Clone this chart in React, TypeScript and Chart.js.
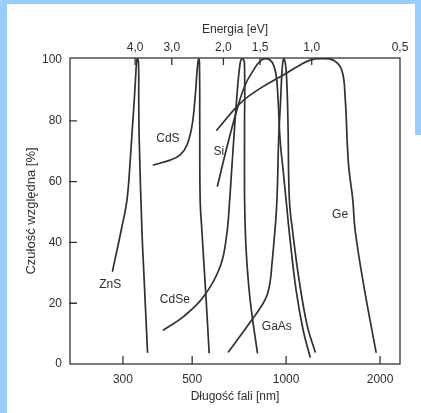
import React, { useEffect, useRef } from 'react';
import { Chart, registerables } from 'chart.js';

Chart.register(...registerables);

// ---- axis ticks ----
const WL_TICKS = [300, 500, 1000, 2000];
const EV_TICKS = [4.0, 3.0, 2.0, 1.5, 1.0, 0.5];
const Y_TICKS = [0, 20, 40, 60, 80, 100];

// ---- series (wavelength nm, relative sensitivity %) ----
const ZNS_WL = [277.8, 296.3, 309.0, 316.6, 321.3, 326.1, 329.7, 331.6, 333.4, 336.5, 337.1, 338.3, 345.1, 349.7, 359.7];
const ZNS_VAL = [30.6, 44.1, 53.9, 67.1, 77.0, 86.8, 95.1, 99.2, 100.5, 99.2, 86.8, 73.7, 44.1, 30.9, 3.9];

const CDS_WL = [375.9, 425.2, 457.7, 480.8, 498.9, 511.2, 517.6, 521.4, 524.5, 527.7, 528.8, 530.4, 537.0, 554.3, 566.7];
const CDS_VAL = [65.5, 67.1, 68.8, 72.0, 78.1, 87.9, 95.6, 99.0, 100.5, 99.0, 77.0, 53.9, 44.1, 21.1, 3.7];

const CDSE_WL = [404.7, 469.0, 543.5, 614.6, 644.9, 659.3, 671.5, 695.2, 712.3, 724.5, 735.3, 735.8, 736.3, 744.5, 766.8, 809.1];
const CDSE_VAL = [11.2, 15.6, 22.1, 32.0, 42.4, 53.9, 66.1, 87.9, 98.9, 100.5, 99.0, 77.0, 53.9, 37.5, 21.1, 3.7];

const SI_WL = [602.6, 642.7, 695.2, 739.1, 785.8, 825.5, 862.9, 902.0, 928.9, 942.7, 956.7, 978.1, 1000, 1029.9, 1076.4, 1133.6, 1193.5];
const SI_VAL = [58.6, 70.4, 83.6, 91.8, 96.7, 99.7, 100.5, 99.3, 95.1, 86.8, 73.7, 63.8, 53.9, 40.8, 24.3, 11.2, 2.3];

const GAAS_WL = [653.7, 712.3, 784.0, 837.8, 869.4, 888.8, 902.0, 915.3, 928.9, 937.1, 946.2, 960.2, 970.8, 981.7, 996.3, 1007.4, 1014.8, 1024.6, 1052.9, 1100.6, 1167.4, 1238.3];
const GAAS_VAL = [4.0, 9.2, 15.1, 19.4, 22.7, 27.0, 33.6, 40.8, 49.0, 57.2, 73.7, 86.8, 96.7, 100.5, 98.4, 90.1, 77.0, 53.9, 42.4, 27.6, 12.8, 4.0];

const GE_WL = [599.9, 712.3, 825.5, 956.7, 1108.8, 1193.5, 1284.9, 1417.4, 1508.1, 1545.4, 1583.6, 1635.8, 1663.6, 1768.6, 1941.6];
const GE_VAL = [77.0, 85.8, 90.7, 94.5, 98.4, 100, 100.5, 100, 96.7, 87.9, 66.1, 53.9, 44.1, 26.5, 3.9];

// ---- curve labels ----
const LABEL_TEXT = ['ZnS', 'CdS', 'Si', 'CdSe', 'GaAs', 'Ge'];
const LABEL_WL = [273.1, 418.0, 608.9, 440.1, 933.6, 1489.4];
const LABEL_VAL = [26.2, 74.2, 69.8, 21.1, 12.3, 49.0];

const FONT = "'Liberation Sans', Arial, Helvetica, sans-serif";
const INK = '#2e2e2e';
const LINE = '#303030';
const BLUE = '#99CCFF';

const zip = (xs: number[], ys: number[]) => xs.map((x, i) => ({ x, y: ys[i] }));

const decor = {
  id: 'decor',
  afterDatasetsDraw(chart: any) {
    const { ctx, chartArea, scales } = chart;
    const { left, right, top, bottom } = chartArea;
    ctx.save();
    ctx.strokeStyle = '#333';
    ctx.lineWidth = 1.3;
    ctx.strokeRect(left, top, right - left, bottom - top);
    ctx.beginPath();
    for (const v of WL_TICKS) {
      const px = scales.x.getPixelForValue(v);
      ctx.moveTo(px, bottom);
      ctx.lineTo(px, bottom - 8);
    }
    for (const e of EV_TICKS) {
      const px = scales.x2.getPixelForValue(e);
      if (px < right - 1.5 && px > left + 1.5) {
        ctx.moveTo(px, top);
        ctx.lineTo(px, top + 7);
      }
    }
    for (const v of Y_TICKS) {
      const py = scales.y.getPixelForValue(v);
      if (py > top + 3 && py < bottom - 1.5) {
        ctx.moveTo(left - 1, py);
        ctx.lineTo(left + 7, py);
      }
    }
    ctx.stroke();
    ctx.fillStyle = INK;
    ctx.font = `12px ${FONT}`;
    ctx.textAlign = 'center';
    ctx.textBaseline = 'middle';
    LABEL_TEXT.forEach((t, i) => {
      ctx.fillText(t, scales.x.getPixelForValue(LABEL_WL[i]), scales.y.getPixelForValue(LABEL_VAL[i]));
    });
    ctx.restore();
  },
};

export default function App() {
  const ref = useRef<HTMLCanvasElement | null>(null);
  useEffect(() => {
    if (!ref.current) return;
    const series = [
      ['ZnS', ZNS_WL, ZNS_VAL],
      ['CdS', CDS_WL, CDS_VAL],
      ['CdSe', CDSE_WL, CDSE_VAL],
      ['Si', SI_WL, SI_VAL],
      ['GaAs', GAAS_WL, GAAS_VAL],
      ['Ge', GE_WL, GE_VAL],
    ] as [string, number[], number[]][];
    const tickFont = { family: FONT, size: 12 };
    const chart = new Chart(ref.current, {
      type: 'line',
      data: {
        datasets: series.map(([label, xs, ys]) => ({
          label,
          data: zip(xs, ys),
          borderColor: LINE,
          borderWidth: 1.7,
          pointRadius: 0,
          fill: false,
          tension: 0.4,
          borderCapStyle: 'round',
          borderJoinStyle: 'round',
          xAxisID: 'x',
          yAxisID: 'y',
        })),
      },
      options: {
        animation: false,
        responsive: true,
        maintainAspectRatio: false,
        devicePixelRatio: 1,
        layout: { padding: { left: 0, top: 0, right: 21, bottom: 0 } },
        plugins: { legend: { display: false }, tooltip: { enabled: false } },
        scales: {
          x: {
            type: 'logarithmic',
            position: 'bottom',
            min: 203,
            max: 2317,
            grid: { display: false, drawTicks: false },
            border: { display: false },
            afterBuildTicks: (s: any) => { s.ticks = WL_TICKS.map((value) => ({ value })); },
            afterFit: (s: any) => { s.height = 49; },
            ticks: {
              autoSkip: false, maxRotation: 0, minRotation: 0, padding: 8,
              color: INK, font: tickFont,
              callback: (v: any) => String(v),
            },
            title: { display: true, text: 'Długość fali [nm]', color: INK, font: tickFont, padding: { top: 0, bottom: 8.8 } },
          },
          x2: {
            type: 'logarithmic',
            axis: 'x',
            position: 'top',
            reverse: true,
            min: 0.5,
            max: 6.67,
            grid: { display: false, drawTicks: false },
            border: { display: false },
            afterBuildTicks: (s: any) => { s.ticks = EV_TICKS.map((value) => ({ value })); },
            afterFit: (s: any) => { s.height = 58; },
            ticks: {
              autoSkip: false, maxRotation: 0, minRotation: 0, padding: 3,
              color: INK, font: tickFont,
              callback: (v: any) => Number(v).toFixed(1).replace('.', ','),
            },
            title: { display: true, text: 'Energia [eV]', color: INK, font: tickFont, padding: { top: 22, bottom: 0 } },
          },
          y: {
            type: 'linear',
            position: 'left',
            min: 0,
            max: 100.7,
            grid: { display: false, drawTicks: false },
            border: { display: false },
            afterBuildTicks: (s: any) => { s.ticks = Y_TICKS.map((value) => ({ value })); },
            afterFit: (s: any) => { s.width = 70; },
            ticks: { padding: 8, color: INK, font: tickFont },
            title: { display: true, text: 'Czułość względna [%]', color: INK, font: { family: FONT, size: 13 }, padding: { top: 23.5, bottom: 0 } },
          },
        },
      } as any,
      plugins: [decor],
    });
    return () => chart.destroy();
  }, []);

  return (
    <div style={{ position: 'fixed', left: 0, top: 0, width: 421, height: 413, background: '#fff', overflow: 'hidden' }}>
      <div style={{ position: 'absolute', left: 0, top: 0, width: 421, height: 4, background: BLUE }} />
      <div style={{ position: 'absolute', left: 0, top: 0, width: 7, height: 413, background: BLUE }} />
      <div style={{ position: 'absolute', left: 415, top: 0, width: 6, height: 135, background: BLUE }} />
      <div style={{ position: 'absolute', left: 0, top: 0, width: 421, height: 413 }}>
        <canvas ref={ref} />
      </div>
    </div>
  );
}
